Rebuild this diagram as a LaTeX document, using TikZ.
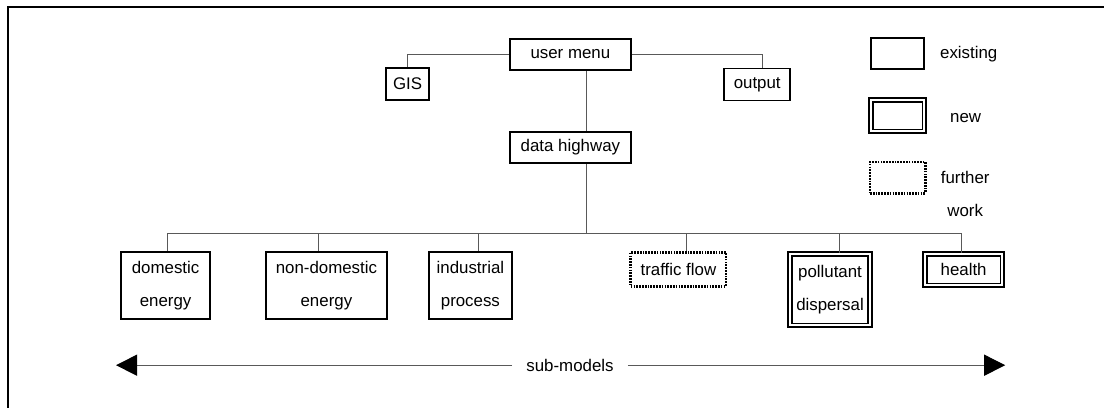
\documentclass[tikz,border=0pt]{standalone}
\usepackage{fontspec}
\setmainfont{Liberation Sans}
\usetikzlibrary{arrows.meta}

\begin{document}
\begin{tikzpicture}[
    font=\fontsize{12pt}{23pt}\selectfont,
    box/.style={
        draw=black, align=center, line width=1.1pt,
        inner sep=1pt, minimum height=0.78cm
    },
    newbox/.style={
        box, double, line width=1.2pt, double distance=1.3pt
    },
    laterbox/.style={
        box, line width=2pt, dash pattern=on 1.2pt off 0.8pt
    },
    link/.style={draw=black!65, line width=0.6pt},
    arr/.style={-{Triangle[length=5.3mm,width=5.3mm,color=black]},
        draw=black!65, line width=0.7pt},
]
\useasboundingbox (0,0) rectangle (27.6,-10.2);
% ---------- outer frame (top and left edge) ----------
\draw[line width=2.1pt] (0.2,-10.4) -- (0.2,-0.175) -- (27.8,-0.175);

% ---------- top level ----------
\node[box, minimum width=3.03cm] (usermenu) at (14.26,-1.36) {user menu};
\node[box, minimum width=1.08cm, minimum height=0.8cm] (gis) at (10.19,-2.10) {GIS};
\node[box, minimum width=1.65cm, minimum height=0.8cm] (output) at (18.93,-2.11) {output};
\node[box, minimum width=3.03cm] (datahw) at (14.26,-3.69) {data highway};

% ---------- sub-models ----------
\node[box, minimum width=2.23cm, minimum height=1.68cm] (domestic)  at ( 4.14,-7.14) {domestic\\energy};
\node[box, minimum width=3.03cm, minimum height=1.68cm] (nondom)    at ( 8.16,-7.14) {non-domestic\\energy};
\node[box, minimum width=2.08cm, minimum height=1.68cm] (industry)  at (11.76,-7.14) {industrial\\process};
\node[laterbox, minimum width=2.38cm, minimum height=0.85cm] (traffic) at (16.96,-6.73) {traffic flow};
\node[newbox, minimum width=2.0cm, minimum height=1.78cm] (pollutant) at (20.75,-7.24) {pollutant\\dispersal};
\node[newbox, minimum width=1.93cm, minimum height=0.78cm] (health)    at (24.09,-6.74) {health};

% ---------- key ----------
\node[box, minimum width=1.33cm] (keyold) at (22.44,-1.34) {};
\node[newbox, minimum width=1.33cm, minimum height=0.78cm] (keynew) at (22.44,-2.89) {};
\node[laterbox, minimum width=1.38cm] (keylater) at (22.44,-4.44) {};
\node[anchor=west] (oldtxt) at (23.38,-1.35) {existing};
\node[anchor=west] (newtxt) at (23.63,-2.95) {new};
\node[align=center] (latertxt) at (24.13,-4.85) {further\\work};

% ===================== LINKS =====================
\draw[link] (usermenu.west) -| (gis.north);
\draw[link] (usermenu.east) -| ([xshift=0.12cm]output.north);
\draw[link] ([xshift=0.39cm]usermenu.south) -- ([xshift=0.39cm]datahw.north);

\coordinate (bus) at (14.65,-5.83);
\draw[link] ([xshift=0.39cm]datahw.south) -- (bus);
\draw[link] ([xshift=0.04cm]domestic.north)   |- (bus);
\draw[link] ([xshift=-0.21cm]nondom.north)    |- (bus);
\draw[link] ([xshift=0.19cm]industry.north)   |- (bus);
\draw[link] ([xshift=0.19cm]traffic.north)    |- (bus);
\draw[link] ([xshift=0.23cm]pollutant.north)  |- (bus);
\draw[link] ([xshift=-0.06cm]health.north)    |- (bus);

% ---------- span of the sub-models ----------
\node[inner xsep=0.35cm] (span) at (14.25,-9.13) {sub-models};
\coordinate (spanL) at (2.9,-9.13);
\coordinate (spanR) at (25.13,-9.13);
\draw[arr] (span.west) -- (spanL);
\draw[arr] (span.east) -- (spanR);
\end{tikzpicture}
\end{document}
